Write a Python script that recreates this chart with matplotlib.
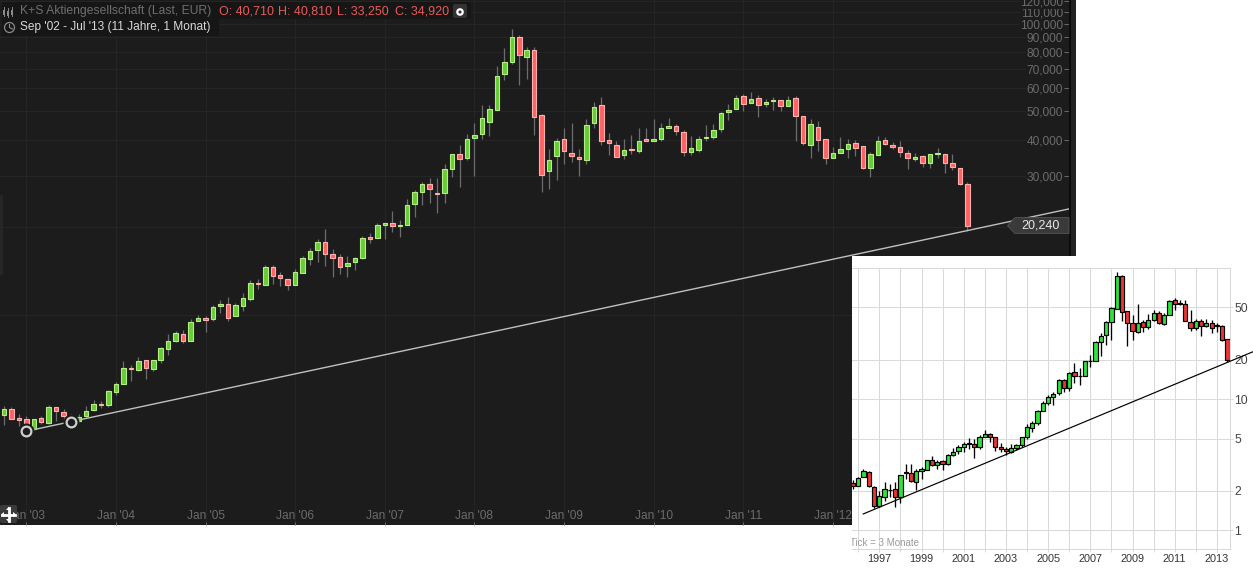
import numpy as np
import matplotlib
matplotlib.use('Agg')
import matplotlib.pyplot as plt
from matplotlib.patches import Rectangle, Polygon, Circle, FancyBboxPatch
from matplotlib.ticker import NullLocator, FixedLocator

plt.rcParams['font.family'] = ['Liberation Sans', 'DejaVu Sans']

# monthly candles, K+S, Oct '02 - Jul '13 (EUR)
opens = [4.52,4.72,4.40,4.36,4.03,4.40,4.25,4.79,4.61,4.30,
         4.32,4.49,4.70,4.92,4.89,5.43,5.78,6.55,6.46,6.96,
         6.51,7.00,7.63,8.13,8.55,8.13,9.53,9.71,9.68,10.72,
         10.84,9.92,10.72,11.34,12.84,12.67,14.54,13.65,13.22,12.67,
         13.93,15.57,16.72,17.72,16.12,15.74,14.73,15.21,15.69,18.44,
         18.38,20.39,20.61,20.23,20.39,24.08,26.48,28.08,26.21,26.27,
         31.77,35.60,34.65,40.61,41.92,46.13,50.72,67.44,74.22,90.0,
         77.18,81.19,48.5,31.27,35.21,40.10,35.89,34.78,34.12,45.74,
         52.51,39.8,38.24,35.49,37.13,36.65,40.10,39.67,40.29,43.96,
         44.45,42.38,36.36,36.93,40.51,40.92,43.65,49.92,51.08,56.4,
         53.6,55.5,53.18,54.3,54.6,52.35,55.5,48.1,38.43,44.1,
         40.1,34.65,36.07,37.22,38.85,37.94,32.0,35.49,39.8,38.24,
         37.65,35.89,34.39,35.05,33.15,35.78,35.6,33.15,31.86,28.08]
highs = [4.84,4.82,4.55,4.48,4.38,4.48,4.88,4.82,4.73,4.55,
         4.55,4.84,5.08,5.04,5.50,5.88,6.93,6.71,7.15,7.00,
         7.00,7.72,8.57,8.76,8.85,9.64,9.95,9.89,10.76,11.20,
         11.47,10.93,11.84,13.12,13.22,14.81,14.81,13.98,13.28,14.32,
         15.91,16.90,18.15,19.70,16.77,16.12,15.87,15.82,18.59,19.04,
         20.61,20.66,22.67,21.11,24.93,26.77,28.68,29.44,29.44,32.89,
         35.60,38.24,41.72,45.52,52.51,52.51,71.52,82.48,95.89,91.44,
         83.14,83.14,48.88,37.05,40.42,43.75,45.52,37.05,46.98,53.76,
         55.94,42.05,39.47,40.10,41.39,43.75,43.75,46.98,45.52,47.36,
         45.16,43.05,41.07,41.07,44.81,45.16,49.66,52.92,56.83,57.28,
         58.2,56.83,55.06,55.94,54.85,56.4,56.4,48.34,46.98,46.24,
         40.29,37.65,40.74,40.1,39.8,38.13,36.16,41.07,40.74,39.16,
         39.47,36.74,35.89,35.33,35.6,37.35,35.6,35.6,32.0,28.5]
lows = [4.17,4.36,4.14,4.10,4.01,4.19,4.19,4.32,4.34,4.17,
        4.28,4.43,4.65,4.77,4.82,5.29,5.78,5.93,6.41,5.99,
        6.41,6.80,7.28,8.06,8.00,8.10,9.50,8.74,9.53,10.12,
        9.53,9.89,10.31,11.16,12.25,12.64,12.77,12.57,12.18,12.64,
        13.90,14.81,15.17,14.73,13.50,13.82,13.50,14.27,15.54,17.59,
        18.30,18.24,19.29,18.53,20.29,21.72,23.89,24.27,22.31,24.27,
        29.82,27.55,34.12,30.05,40.29,41.26,50.57,64.32,73.0,61.53,
        64.82,41.59,26.49,27.11,29.12,33.05,33.60,30.05,33.05,43.96,
        38.43,35.49,34.78,34.22,35.60,36.07,39.47,39.47,39.67,43.75,
        41.59,35.21,35.49,36.36,39.67,40.10,42.57,46.84,50.87,50.3,
        53.3,47.74,51.93,50.72,50.3,52.1,39.67,38.43,34.65,36.65,
        33.05,34.5,35.89,34.65,35.21,31.77,29.82,35.33,38.24,37.05,
        34.94,31.77,33.85,32.28,32.0,34.65,30.76,31.5,27.85,19.44]
closes = [4.72,4.38,4.35,4.21,4.36,4.28,4.79,4.65,4.47,4.37,
          4.45,4.65,4.91,4.88,5.45,5.75,6.53,6.50,6.91,6.57,
          6.96,7.65,8.09,8.62,8.13,9.41,9.71,9.61,10.59,10.84,
          9.76,10.76,11.38,12.81,12.77,14.54,13.61,13.40,12.67,13.98,
          15.62,16.51,17.72,16.2,15.69,14.62,15.01,15.62,18.30,18.24,
          20.29,20.66,20.23,20.39,23.77,26.35,28.08,27.11,26.06,31.61,
          35.60,34.39,40.10,41.39,47.36,50.87,66.06,73.82,90.0,78.41,
          81.19,47.97,30.29,33.95,39.47,36.65,35.21,34.39,44.81,51.68,
          39.67,39.04,34.94,36.74,36.93,39.47,39.67,40.10,43.75,44.45,
          42.94,36.36,37.35,40.10,40.85,43.05,49.27,50.47,55.5,53.18,
          55.1,52.76,53.76,54.75,52.35,54.6,48.34,39.05,45.16,39.9,
          34.65,35.89,37.05,38.55,37.5,32.0,35.6,39.47,38.55,37.84,
          36.16,34.5,34.78,33.15,35.6,35.98,33.3,32.28,28.2,20.24]

jan_positions = [3, 15, 27, 39, 51, 63, 75, 87, 99, 111]
jan_labels = ["Jan '03", "Jan '04", "Jan '05", "Jan '06", "Jan '07",
              "Jan '08", "Jan '09", "Jan '10", "Jan '11", "Jan '12"]
# 10,000 and 20,000 sit behind the small chart and the price tag, so no label
price_ticks = [10, 20, 30, 40, 50, 60, 70, 80, 90, 100, 110, 120]
price_labels = ['', '', '30,000', '40,000', '50,000', '60,000',
                '70,000', '80,000', '90,000', '100,000', '110,000', '120,000']

# trend line and its two anchor circles (month index, price)
trend_x = [3, 142.6]
trend_y = [3.97, 23.1]
anchor_x = [3, 9]
anchor_y = [3.97, 4.26]

# quarterly candles for the small white chart, from 1995.75
q_open = [2.29,2.18,2.53,2.80,2.15,1.53,1.79,2.02,2.07,1.80,
          2.75,2.75,2.32,2.85,2.90,3.46,3.12,3.40,3.22,3.78,
          4.05,4.29,4.58,4.58,4.35,5.18,5.46,5.10,4.29,4.13,
          3.97,4.21,4.43,5.18,6.00,6.6,
          8.15,9.3,10.35,11.1,13.9,12.1,16.1,15.0,15.0,19.4,
          19.4,27.1,30.7,38.7,48.7,86.5,46.6,37.9,32.4,38.7,
          35.3,40,45,37.3,43.7,56.6,53.5,53,38.7,34.8,
          39.4,36.1,37.9,36.4,36.1,28.5]
q_high = [2.43,2.55,2.95,2.83,2.18,1.98,2.32,2.25,2.32,2.66,
          3.22,3.22,2.95,3.04,3.46,3.68,3.42,3.46,3.84,4.23,
          4.43,4.69,5.03,5.0,5.28,5.84,5.55,5.10,4.6,4.29,
          4.58,4.53,5.18,6.50,6.75,8.22,
          9.6,10.8,11.4,14.1,14.1,16.1,18.8,17.2,19.4,21.8,
          27.5,31.7,39.5,50,93,88,46.6,44,53,40,
          44.5,47.9,46.6,45,57.2,58.9,57.2,57.2,47.6,40.8,
          40.8,40.6,40,37.9,36.5,28.8]
q_low = [2.07,2.18,2.53,2.12,1.47,1.51,1.68,1.78,1.51,1.62,
         2.47,2.33,2.02,2.47,2.90,3.08,2.92,2.87,3.16,3.67,
         3.84,3.97,4.13,3.56,4.17,5.15,4.74,4.02,3.93,3.73,
         3.88,4.07,4.35,5.0,5.59,6.40,
         8.05,9.05,9.05,10.7,11.3,11.6,13.2,12.7,14.9,17.4,
         19.4,21.2,26.0,28.3,48.7,39.5,25.2,28.3,31.9,32.4,
         34,39.1,37.3,36.9,43.7,47.6,51.7,39.1,32.8,33.7,
         30,35.7,31.7,32.4,27.8,19.1]
q_close = [2.18,2.51,2.85,2.18,1.53,1.84,2.07,2.04,1.80,2.66,
           2.77,2.39,2.85,2.95,3.46,3.12,3.34,3.22,3.78,3.92,
           4.29,4.58,4.60,4.35,5.18,5.46,5.10,4.29,4.14,4.05,
           4.21,4.43,5.18,6.17,6.62,8.16,
           9.3,10.3,10.9,13.9,12.1,15.8,15.0,15.1,19.4,19.6,
           27.1,30.3,38.7,49.4,86.5,46,37.9,33.2,37.9,35.3,
           40,45,37.9,43.7,55.9,53,53.2,39.4,34.8,39.4,
           36.1,37.9,34.8,36.1,28.2,20]

inset_years = list(range(1996, 2014))
inset_year_labels = ['', '1997', '', '1999', '', '2001', '', '2003', '', '2005',
                     '', '2007', '', '2009', '', '2011', '', '2013']
inset_price_ticks = [1, 2, 5, 10, 20, 50]
inset_price_labels = ['1', '2', '5', '10', '20', '50']
inset_trend_x = [1996.24, 2014.7]
inset_trend_y = [1.333, 22.9]

W, H = 1253, 569
BG = '#1c1c1c'
GRID = '#262626'
LABEL = '#6b6b6b'


def rect_from_px(x0, y0, x1, y1):
    return [x0 / W, 1 - y1 / H, (x1 - x0) / W, (y1 - y0) / H]


def candles(ax, x, o, h, l, c, width, up, down, edge_up, edge_down, wick, lw, wick_lw):
    o, h, l, c = map(np.array, (o, h, l, c))
    rising = c >= o
    ax.vlines(x, l, h, color=wick, lw=wick_lw, zorder=3)
    ax.bar(x, np.abs(c - o), bottom=np.minimum(o, c), width=width,
           color=np.where(rising, up, down),
           edgecolor=np.where(rising, edge_up, edge_down),
           linewidth=lw, zorder=4)


fig = plt.figure(figsize=(W / 100, H / 100), dpi=100, facecolor='white')

# main dark chart
ax = fig.add_axes(rect_from_px(0, 0, 1069, 525), facecolor=BG, zorder=0)
months = np.arange(len(opens))
candles(ax, months, opens, highs, lows, closes, 0.6, '#68cc36', '#ff6262',
        '#b4ee84', '#ffb0b0', '#6c6c6c', 0.8, 0.9)
ax.set_yscale('log')
ax.set_ylim(1.888, 120.9)
ax.set_xlim(-0.52, 142.6)
ax.plot(trend_x, trend_y, color='#c0c0c0', lw=1.0, zorder=5)
ax.plot(anchor_x, anchor_y, 'o', ms=11.5, mfc=BG, mec=BG, mew=0, zorder=6)
ax.plot(anchor_x, anchor_y, 'o', ms=7.0, mfc=BG, mec='#cfcfcf', mew=1.6, zorder=7)

ax.yaxis.set_major_locator(FixedLocator(price_ticks))
ax.yaxis.set_minor_locator(NullLocator())
ax.set_yticklabels(price_labels)
ax.yaxis.tick_right()
ax.tick_params(axis='y', direction='in', length=3.6, width=0.7, color=LABEL,
               pad=-4.4, labelsize=8.6, labelcolor=LABEL)
for lab in ax.get_yticklabels():
    lab.set_ha('right')
    if lab.get_text():
        lab.set_bbox(dict(facecolor=BG, edgecolor='none', pad=0.6))
ax.set_xticks(jan_positions)
ax.set_xticklabels(jan_labels)
ax.tick_params(axis='x', direction='in', length=2.2, width=0.7, color=LABEL,
               pad=-11, labelsize=8.6, labelcolor=LABEL)
ax.grid(True, color=GRID, lw=0.7, zorder=0)
ax.set_axisbelow(True)
for s in ax.spines.values():
    s.set_visible(False)

# white corner behind the small chart
ax_bg = fig.add_axes(rect_from_px(852, 256, W, H), facecolor='white', zorder=1)
ax_bg.set_xticks([])
ax_bg.set_yticks([])
for s in ax_bg.spines.values():
    s.set_visible(False)

# small chart
INSET_GRID = '#d9d9d9'
ax2 = fig.add_axes(rect_from_px(852, 268.3, 1230, 549.3), facecolor='white', zorder=2)
quarters = 1995.75 + 0.25 * np.arange(len(q_open))
candles(ax2, quarters, q_open, q_high, q_low, q_close, 0.2, '#2fe23c', '#ee3535',
        'black', 'black', 'black', 0.85, 0.95)
ax2.set_yscale('log')
ax2.set_ylim(0.717, 99.1)
ax2.set_xlim(1995.706, 2013.62)
ax2.plot(inset_trend_x, inset_trend_y, color='black', lw=0.85, zorder=5, clip_on=False)
ax2.yaxis.set_major_locator(FixedLocator(inset_price_ticks))
ax2.yaxis.set_minor_locator(NullLocator())
ax2.set_yticklabels(inset_price_labels)
ax2.yaxis.tick_right()
ax2.set_xticks(inset_years)
ax2.set_xticklabels(inset_year_labels)
ax2.tick_params(axis='x', length=2.5, width=0.7, color=INSET_GRID, pad=1.2,
                labelsize=7.8, labelcolor='#333333')
ax2.tick_params(axis='y', length=2.5, width=0.7, color=INSET_GRID, pad=0.4,
                labelsize=8.8, labelcolor='#444444')
ax2.grid(True, color=INSET_GRID, lw=0.75, zorder=0)
ax2.set_axisbelow(True)
ax2.spines['left'].set_visible(False)
for side in ['top', 'bottom', 'right']:
    ax2.spines[side].set_color(INSET_GRID)
    ax2.spines[side].set_linewidth(0.75)
px = matplotlib.transforms.Affine2D().scale(1, -1).translate(0, H)
ax2.text(850, 543.5, 'Tick = 3 Monate', transform=px, fontsize=7, color='#9a9a9a',
         va='center', ha='left', clip_on=True)

# header, price tag and icons drawn in image pixels
top = fig.add_axes([0, 0, 1, 1], zorder=5)
top.set_xlim(0, W)
top.set_ylim(H, 0)
top.axis('off')

top.add_patch(Rectangle((1069, 0), 7, 256, fc='#222222', ec='none'))
top.add_patch(Rectangle((1069, 0), 1.5, 256, fc='#0c0c0c', ec='none'))
top.add_patch(Rectangle((0, 195), 3, 80, fc='#262626', ec='none'))

top.add_patch(Rectangle((2, 2), 469, 17, fc='#161616', ec='none'))
top.add_patch(Rectangle((2, 19), 217, 17, fc='#161616', ec='none'))
top.text(20, 11, 'K+S Aktiengesellschaft (Last, EUR)', color='#6e6e6e', fontsize=8.75,
         va='center', ha='left')
for tx, s in zip([219.3, 278.3, 337.3, 394.7],
                 ['O: 40,710', 'H: 40,810', 'L: 33,250', 'C: 34,920']):
    top.text(tx, 11, s, color='#e85a5a', fontsize=9, va='center', ha='left')
top.text(20, 27, "Sep '02 - Jul '13 (11 Jahre, 1 Monat)", color='#d8d8d8', fontsize=8.6,
         va='center', ha='left')

# little candle icon
for cx, y0, y1 in [(4, 9, 15), (8, 10, 16), (12, 9, 15)]:
    top.plot([cx, cx], [y0 - 2, y1 + 1], color='#8a8a8a', lw=0.7)
    top.add_patch(Rectangle((cx - 1, y0 + 1), 2, y1 - y0 - 1, fc='#8a8a8a', ec='none'))
# clock icon
top.add_patch(Circle((9.5, 27.5), 5, fc='none', ec='#8a8a8a', lw=0.9))
top.plot([9.5, 9.5, 12.5], [24.5, 27.5, 29], color='#8a8a8a', lw=0.8)
# settings button
top.add_patch(FancyBboxPatch((455, 6), 10, 10, boxstyle='round,pad=2', fc='#333333', ec='none'))
top.add_patch(Circle((460, 12), 2.7, fc='none', ec='white', lw=1.6))

# last price tag
tag_y = H - ax.transData.transform((0, closes[-1]))[1]
top.add_patch(Polygon([(1007.5, tag_y), (1015, tag_y - 8), (1069, tag_y - 8),
                       (1069, tag_y + 8), (1015, tag_y + 8)],
                      closed=True, fc='#3a3a3a', ec='#555555', lw=0.6))
top.text(1041, tag_y + 0.3, f'{closes[-1]:.3f}'.replace('.', ','), color='#e8e8e8', fontsize=9,
         va='center', ha='center')

# move handle
top.add_patch(FancyBboxPatch((2, 507), 13, 14, boxstyle='round,pad=2', fc='#3a3a3a', ec='none'))
top.plot([2, 15], [514.5, 514.5], color='white', lw=2.0)
top.plot([8.5, 8.5], [508, 521], color='white', lw=2.0)
for pts in ([(1, 514.5), (4, 512), (4, 517)], [(16, 514.5), (13, 512), (13, 517)],
            [(8.5, 507), (6, 510), (11, 510)], [(8.5, 522), (6, 519), (11, 519)]):
    top.add_patch(Polygon(pts, closed=True, fc='white', ec='none'))

plt.savefig('out.png', dpi=100, facecolor='white')
